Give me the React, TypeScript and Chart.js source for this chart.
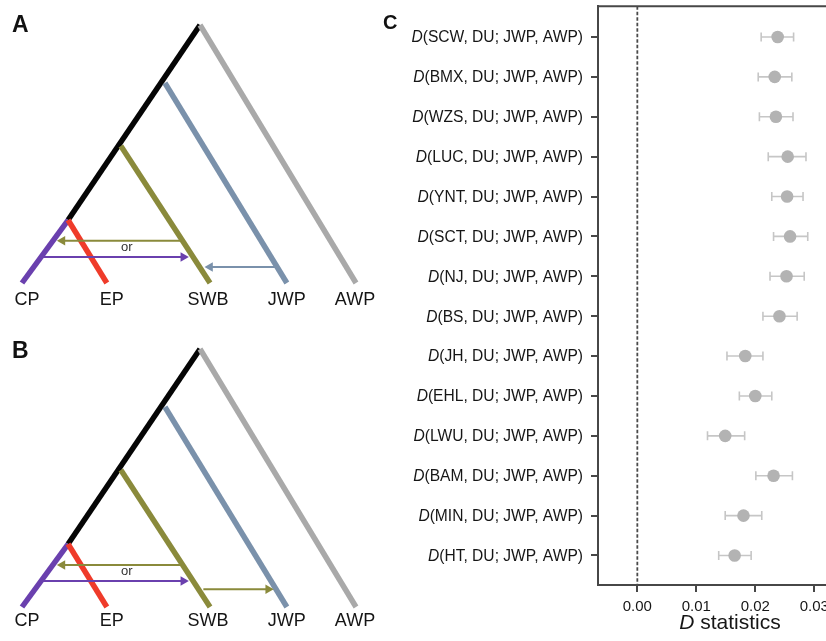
import React, { useEffect, useRef } from "react";
import { Chart, registerables } from "chart.js";

Chart.register(...registerables);

const FONT = '"Liberation Sans", Arial, Helvetica, sans-serif';

// ---------------- Panel C data ----------------
const POPULATIONS = ["SCW", "BMX", "WZS", "LUC", "YNT", "SCT", "NJ", "BS", "JH", "EHL", "LWU", "BAM", "MIN", "HT"];
const D_VALUES = [0.0238, 0.0233, 0.0235, 0.0255, 0.0254, 0.0259, 0.0253, 0.0241, 0.0183, 0.02, 0.0149, 0.0231, 0.018, 0.0165];
const D_LOWER = [0.021, 0.0205, 0.0207, 0.0222, 0.0228, 0.0231, 0.0225, 0.0213, 0.0152, 0.0173, 0.0119, 0.0201, 0.0149, 0.0138];
const D_UPPER = [0.0265, 0.0262, 0.0264, 0.0286, 0.0281, 0.0289, 0.0283, 0.0271, 0.0213, 0.0228, 0.0182, 0.0263, 0.0211, 0.0193];
const X_TICKS = [0, 0.01, 0.02, 0.03];
const LABEL_PREFIX = "D";
const LABEL_SUFFIX = ", DU; JWP, AWP)";
const X_TITLE_ITALIC = "D";
const X_TITLE_REST = " statistics";

// ---------------- Tree (panels A, B) data ----------------
const TIPS = ["CP", "EP", "SWB", "JWP", "AWP"];
const TIP_X = [0, 2.54, 5.63, 7.93, 10];
const NODES = ["root", "jwpNode", "swbNode", "cpNode"];
const NODE_X = [5.33, 4.28, 2.96, 1.38];
const NODE_H = [10, 7.75, 5.31, 2.44];
const BRANCH_PARENT = ["root", "root", "jwpNode", "swbNode", "cpNode", "cpNode"];
const BRANCH_CHILD = ["cpNode", "AWP", "JWP", "SWB", "CP", "EP"];

// gene-flow arrows: source lineage, start x, end x, height
const ARROW_SRC_A = ["SWB", "CP", "JWP"];
const ARROW_FROM_A = [4.79, 0.63, 7.63];
const ARROW_TO_A = [1.21, 4.83, 5.63];
const ARROW_H_A = [1.64, 1.01, 0.62];

const ARROW_SRC_B = ["SWB", "CP", "SWB"];
const ARROW_FROM_B = [4.79, 0.63, 5.43];
const ARROW_TO_B = [1.21, 4.83, 7.37];
const ARROW_H_B = [1.63, 1.01, 0.69];

const OR_X = 3.14;
const OR_H = 1.36;

// styles
const LINEAGE_COLORS: Record<string, string> = {
  cpNode: "#050505",
  AWP: "#a9a9a9",
  JWP: "#7a91ab",
  SWB: "#8a8a3b",
  CP: "#6a40ae",
  EP: "#ef3b2a",
};

function nodePos(name: string) {
  const t = TIPS.indexOf(name);
  if (t >= 0) return { x: TIP_X[t], y: 0 };
  const n = NODES.indexOf(name);
  return { x: NODE_X[n], y: NODE_H[n] };
}

type TreeProps = {
  top: number;
  letter: string;
  letterY: number;
  labelOffset: number;
  arrowSrc: string[];
  arrowFrom: number[];
  arrowTo: number[];
  arrowH: number[];
};

function TreePanel(props: TreeProps) {
  const ref = useRef<HTMLCanvasElement | null>(null);
  useEffect(() => {
    if (!ref.current) return;
    const datasets: any[] = [];
    props.arrowSrc.forEach((src, i) => {
      const right = props.arrowTo[i] > props.arrowFrom[i];
      const c = LINEAGE_COLORS[src];
      datasets.push({
        data: [
          { x: props.arrowFrom[i], y: props.arrowH[i] },
          { x: props.arrowTo[i], y: props.arrowH[i] },
        ],
        showLine: true,
        borderColor: c,
        backgroundColor: c,
        borderWidth: 2,
        pointRadius: [0, 5.5],
        pointStyle: "triangle",
        rotation: [0, right ? 90 : -90],
        pointBorderWidth: 0,
        clip: false,
        order: 0,
      });
    });
    BRANCH_PARENT.forEach((p, i) => {
      const a = nodePos(p);
      const b = nodePos(BRANCH_CHILD[i]);
      const c = LINEAGE_COLORS[BRANCH_CHILD[i]];
      datasets.push({
        data: [a, b],
        showLine: true,
        borderColor: c,
        backgroundColor: c,
        borderWidth: 5.5,
        borderCapStyle: "butt",
        pointRadius: 0,
        clip: false,
        order: 1 + (BRANCH_PARENT.length - i),
      });
    });
    const deco = {
      id: "treeDeco" + props.letter,
      afterDraw(chart: any) {
        const { ctx, scales } = chart;
        const x = scales.x;
        const y = scales.y;
        ctx.save();
        ctx.fillStyle = "#151515";
        ctx.font = `18px ${FONT}`;
        ctx.textAlign = "center";
        ctx.textBaseline = "middle";
        const shifts = [5, 5, -2, 0, -1];
        TIPS.forEach((t, i) => {
          ctx.fillText(t, x.getPixelForValue(TIP_X[i]) + shifts[i], y.getPixelForValue(0) + props.labelOffset);
        });
        ctx.fillStyle = "#333";
        ctx.font = `13px ${FONT}`;
        ctx.fillText("or", x.getPixelForValue(OR_X), y.getPixelForValue(OR_H));
        ctx.fillStyle = "#111";
        ctx.font = `bold 23px ${FONT}`;
        ctx.textAlign = "left";
        ctx.textBaseline = "alphabetic";
        ctx.fillText(props.letter, 12, props.letterY);
        ctx.restore();
      },
    };
    const chart = new Chart(ref.current, {
      type: "scatter",
      data: { datasets },
      options: {
        responsive: false,
        animation: false,
        events: [],
        layout: { padding: { left: 22, right: 44, top: 25, bottom: 37 } },
        scales: {
          x: { type: "linear", min: 0, max: 10, display: false },
          y: { type: "linear", min: 0, max: 10, display: false },
        },
        plugins: { legend: { display: false }, tooltip: { enabled: false } },
      } as any,
      plugins: [deco],
    });
    return () => chart.destroy();
  }, []);
  return (
    <canvas
      ref={ref}
      width={400}
      height={320}
      style={{ position: "absolute", left: 0, top: props.top, width: 400, height: 320 }}
    />
  );
}

function DPanel() {
  const ref = useRef<HTMLCanvasElement | null>(null);
  useEffect(() => {
    if (!ref.current) return;
    const frameColor = "#474747";
    const deco = {
      id: "dDeco",
      beforeDatasetsDraw(chart: any) {
        const { ctx, chartArea, scales } = chart;
        const x = scales.x;
        const y = scales.y;
        ctx.save();
        ctx.strokeStyle = "#4a4a4a";
        ctx.lineWidth = 1.8;
        ctx.setLineDash([3.5, 2]);
        const x0 = x.getPixelForValue(0);
        ctx.beginPath();
        ctx.moveTo(x0, chartArea.top);
        ctx.lineTo(x0, chartArea.bottom);
        ctx.stroke();
        ctx.setLineDash([]);
        ctx.strokeStyle = "#c6c6c6";
        ctx.lineWidth = 1.6;
        POPULATIONS.forEach((_, i) => {
          const py = y.getPixelForValue(i);
          const a = x.getPixelForValue(D_LOWER[i]);
          const b = x.getPixelForValue(D_UPPER[i]);
          ctx.beginPath();
          ctx.moveTo(a, py);
          ctx.lineTo(b, py);
          ctx.moveTo(a, py - 4.5);
          ctx.lineTo(a, py + 4.5);
          ctx.moveTo(b, py - 4.5);
          ctx.lineTo(b, py + 4.5);
          ctx.stroke();
        });
        ctx.restore();
      },
      afterDraw(chart: any) {
        const { ctx, chartArea, scales } = chart;
        const y = scales.y;
        ctx.save();
        // top frame
        ctx.strokeStyle = frameColor;
        ctx.lineWidth = 2;
        ctx.beginPath();
        ctx.moveTo(chartArea.left - 1, chartArea.top);
        ctx.lineTo(chartArea.right, chartArea.top);
        ctx.stroke();
        // y labels
        ctx.fillStyle = "#161616";
        ctx.textBaseline = "middle";
        ctx.textAlign = "right";
        const right = chartArea.left - 15;
        POPULATIONS.forEach((p, i) => {
          const py = y.getPixelForValue(i) + 1;
          const rest = "(" + p + LABEL_SUFFIX;
          ctx.font = `15.6px ${FONT}`;
          const w = ctx.measureText(rest).width;
          ctx.fillText(rest, right, py);
          ctx.font = `italic 15.6px ${FONT}`;
          ctx.fillText(LABEL_PREFIX, right - w, py);
        });
        // x title
        ctx.textAlign = "left";
        ctx.textBaseline = "alphabetic";
        ctx.font = `italic 21px ${FONT}`;
        const w1 = ctx.measureText(X_TITLE_ITALIC).width;
        ctx.font = `21px ${FONT}`;
        const w2 = ctx.measureText(X_TITLE_REST).width;
        const cx = (chartArea.left + chartArea.right) / 2;
        const sx = cx - (w1 + w2) / 2;
        const by = chartArea.bottom + 44;
        ctx.font = `italic 21px ${FONT}`;
        ctx.fillText(X_TITLE_ITALIC, sx, by);
        ctx.font = `21px ${FONT}`;
        ctx.fillText(X_TITLE_REST, sx + w1, by);
        // panel letter
        ctx.fillStyle = "#111";
        ctx.font = `bold 20px ${FONT}`;
        ctx.fillText("C", 3, 29);
        ctx.restore();
      },
    };
    const chart = new Chart(ref.current, {
      type: "scatter",
      data: {
        datasets: [
          {
            data: POPULATIONS.map((_, i) => ({ x: D_VALUES[i], y: i })),
            pointRadius: 6.3,
            pointStyle: "circle",
            backgroundColor: "#b3b3b3",
            borderColor: "#b3b3b3",
            borderWidth: 0,
          },
        ],
      },
      options: {
        responsive: false,
        animation: false,
        events: [],
        layout: { padding: { left: 0, right: 18, top: 6, bottom: 0 } },
        scales: {
          x: {
            type: "linear",
            position: "bottom",
            min: -0.00667,
            max: 0.0381,
            afterBuildTicks: (s: any) => {
              s.ticks = X_TICKS.map((v) => ({ value: v }));
            },
            afterFit: (s: any) => {
              s.height = 56;
            },
            ticks: {
              callback: (v: any) => Number(v).toFixed(2),
              font: { family: FONT, size: 15 },
              color: "#161616",
              padding: 6,
              maxRotation: 0,
              autoSkip: false,
            },
            grid: { drawOnChartArea: false, drawTicks: true, tickLength: 7, color: frameColor, lineWidth: 2 },
            border: { display: true, color: frameColor, width: 2 },
          },
          y: {
            type: "linear",
            reverse: true,
            min: -0.77,
            max: 13.74,
            afterBuildTicks: (s: any) => {
              s.ticks = POPULATIONS.map((_, i) => ({ value: i }));
            },
            afterFit: (s: any) => {
              s.width = 218;
            },
            ticks: { display: false },
            grid: { drawOnChartArea: false, drawTicks: true, tickLength: 7, color: frameColor, lineWidth: 2 },
            border: { display: true, color: frameColor, width: 2 },
          },
        },
        plugins: { legend: { display: false }, tooltip: { enabled: false } },
      } as any,
      plugins: [deco],
    });
    return () => chart.destroy();
  }, []);
  return (
    <canvas
      ref={ref}
      width={500}
      height={641}
      style={{ position: "absolute", left: 380, top: 0, width: 500, height: 641 }}
    />
  );
}

export default function App() {
  return (
    <div
      style={{
        position: "fixed",
        left: 0,
        top: 0,
        width: 826,
        height: 641,
        overflow: "hidden",
        background: "#ffffff",
      }}
    >
      <TreePanel
        top={0}
        letter="A"
        letterY={32}
        labelOffset={17}
        arrowSrc={ARROW_SRC_A}
        arrowFrom={ARROW_FROM_A}
        arrowTo={ARROW_TO_A}
        arrowH={ARROW_H_A}
      />
      <TreePanel
        top={324}
        letter="B"
        letterY={34}
        labelOffset={14}
        arrowSrc={ARROW_SRC_B}
        arrowFrom={ARROW_FROM_B}
        arrowTo={ARROW_TO_B}
        arrowH={ARROW_H_B}
      />
      <DPanel />
    </div>
  );
}
